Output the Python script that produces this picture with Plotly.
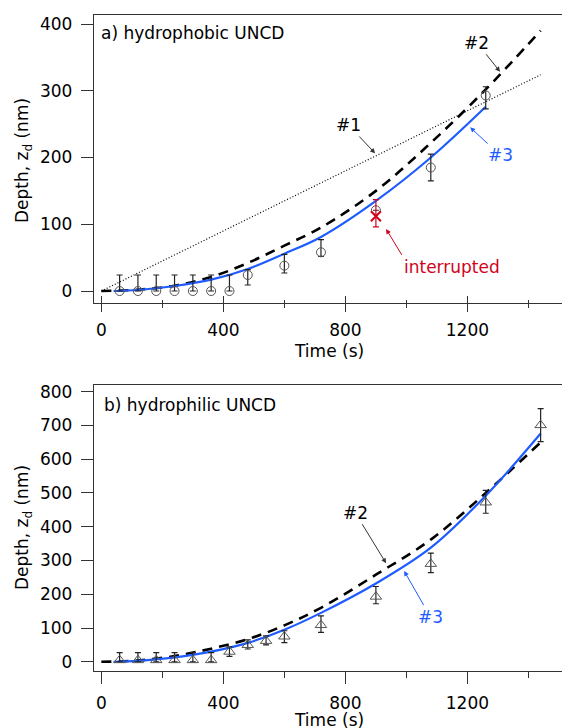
import plotly.graph_objects as go

# ---- panel a) hydrophobic UNCD ----
time_a = [60, 120, 180, 240, 300, 360, 420, 480, 600, 720, 900, 1080, 1260]
depth_a = [0, 0, 0, 0, 0, 0, 0, 24, 38, 58, 121, 185, 293]
err_up_a = [24, 24, 24, 24, 24, 24, 24, 8, 17, 19, 0, 20, 13]
err_dn_a = [0, 0, 0, 0, 0, 0, 0, 15, 11, 6, 0, 20, 20]

interrupted_t = [900]
interrupted_z = [112]
interrupted_up = [25]
interrupted_dn = [16]

fit1_t = [0, 1440]
fit1_z = [0, 324]
fit2_t_a = [0, 120, 240, 360, 480, 600, 720, 900, 1080, 1260, 1440]
fit2_z_a = [0, 2, 8, 21, 42, 68, 95, 150, 222, 302, 390]
fit3_t_a = [40, 120, 240, 360, 480, 600, 720, 900, 1080, 1260]
fit3_z_a = [0, 1.5, 7.5, 17, 33, 56, 81, 135, 200, 276]

# ---- panel b) hydrophilic UNCD ----
time_b = [60, 120, 180, 240, 300, 360, 420, 480, 540, 600, 720, 900, 1080, 1260, 1440]
depth_b = [5, 5, 5, 5, 5, 5, 30, 50, 62, 75, 109, 193, 290, 472, 701]
err_up_b = [22, 22, 22, 22, 22, 22, 14, 15, 15, 17, 27, 30, 32, 36, 49]
err_dn_b = [5, 5, 5, 5, 5, 5, 14, 12, 12, 18, 22, 21, 26, 32, 49]

fit2_t_b = [0, 120, 240, 360, 480, 600, 720, 900, 1080, 1260, 1440]
fit2_z_b = [0, 4, 17, 39, 67, 108, 160, 258, 362, 500, 650]
fit3_t_b = [40, 120, 240, 360, 480, 600, 720, 900, 1080, 1260, 1440]
fit3_z_b = [0, 3, 13, 30, 56, 95, 145, 232, 338, 492, 676]

FONT = "DejaVu Sans"
BLUE = "#1f5cff"
RED = "#d0021b"
GREY = "#555555"
AX = "#333333"

fig = go.Figure()


def add_panel(xa, ya, fit2_t, fit2_z, fit3_t, fit3_z, t, z, up, dn, symbol, size):
    fig.add_trace(go.Scatter(x=fit2_t, y=fit2_z, mode="lines", xaxis=xa, yaxis=ya,
                             line=dict(color="black", width=2.6, dash="10px,7px", shape="spline")))
    fig.add_trace(go.Scatter(x=fit3_t, y=fit3_z, mode="lines", xaxis=xa, yaxis=ya,
                             line=dict(color=BLUE, width=2.2, shape="spline")))
    fig.add_trace(go.Scatter(
        x=t, y=z, mode="markers", xaxis=xa, yaxis=ya,
        marker=dict(symbol=symbol, size=size, color=GREY, line=dict(width=1)),
        error_y=dict(type="data", symmetric=False, array=up, arrayminus=dn,
                     color="#222222", thickness=1.2, width=3),
    ))


fig.add_trace(go.Scatter(x=fit1_t, y=fit1_z, mode="lines", xaxis="x", yaxis="y",
                         line=dict(color="black", width=1.2, dash="1px,2px")))
add_panel("x", "y", fit2_t_a, fit2_z_a, fit3_t_a, fit3_z_a,
          time_a, depth_a, err_up_a, err_dn_a, "circle-open", 9)
fig.add_trace(go.Scatter(
    x=interrupted_t, y=interrupted_z, mode="markers", xaxis="x", yaxis="y",
    marker=dict(symbol="x-thin", size=10, line=dict(color=RED, width=2)),
    error_y=dict(type="data", symmetric=False, array=interrupted_up,
                 arrayminus=interrupted_dn, color=RED, thickness=1.2, width=3),
))
add_panel("x2", "y2", fit2_t_b, fit2_z_b, fit3_t_b, fit3_z_b,
          time_b, depth_b, err_up_b, err_dn_b, "triangle-up-open", 10)
# empty trace so the overlay axis (inner tick marks) renders
fig.add_trace(go.Scatter(x=[None], y=[None], xaxis="x3", yaxis="y"))

tickfont = dict(family=FONT, size=17, color="black")
xcommon = dict(range=[-24, 1510], tickvals=[0, 400, 800, 1200], showgrid=False,
               zeroline=False, showline=True, linecolor=AX, linewidth=1.3,
               tickcolor=AX, tickwidth=1.3, tickfont=tickfont, mirror=True,
               automargin=False)
ycommon = dict(showgrid=False, zeroline=False, showline=True, linecolor=AX,
               linewidth=1.3, ticks="outside", ticklen=12, tickcolor=AX,
               tickwidth=1.3, tickfont=tickfont, ticklabelstandoff=5,
               automargin=False)

fig.update_layout(
    width=562, height=728,
    margin=dict(l=0, r=0, t=0, b=0, autoexpand=False),
    paper_bgcolor="white", plot_bgcolor="white",
    showlegend=False,
    xaxis=dict(xcommon, domain=[94 / 562, 1], anchor="y", ticks="outside", ticklen=8,
               minor=dict(dtick=200, ticks="outside", ticklen=4, tickcolor=AX),
               ticklabelstandoff=4),
    xaxis3=dict(range=[-24, 1510], domain=[94 / 562, 1], anchor="y", overlaying="x",
                matches="x", tickvals=[0, 400, 800, 1200], ticks="inside", ticklen=7,
                tickcolor=AX, tickwidth=1.3, showticklabels=False, showgrid=False,
                zeroline=False, showline=False, automargin=False,
                minor=dict(dtick=200, ticks="inside", ticklen=3, tickcolor=AX)),
    yaxis=dict(ycommon, domain=[1 - 302.7 / 728, 1 - 15 / 728], anchor="x",
               range=[-17.5, 413.5], tickvals=[0, 100, 200, 300, 400]),
    xaxis2=dict(xcommon, domain=[94 / 562, 1], anchor="y2", ticks="outside", ticklen=12,
                minor=dict(dtick=200, ticks="outside", ticklen=6, tickcolor=AX),
                ticklabelstandoff=5),
    yaxis2=dict(ycommon, domain=[1 - 670.5 / 728, 1 - 385 / 728], anchor="x2",
                range=[-25.7, 819.8], tickvals=list(range(0, 801, 100))),
)

ann = []


def label(text, x, y, xr, yr, color="black", xanchor="center", tip=None, arrowcolor=None,
          yanchor="middle"):
    a = dict(text=text, xref=xr, yref=yr, xanchor=xanchor, yanchor=yanchor,
             font=dict(family=FONT, size=17, color=color))
    if tip is None:
        a.update(x=x, y=y, showarrow=False)
    else:
        a.update(x=tip[0], y=tip[1], ax=x, ay=y, axref=xr, ayref=yr, showarrow=True,
                 arrowhead=2, arrowsize=1, arrowwidth=1,
                 arrowcolor=arrowcolor or color)
    ann.append(a)


label("a) hydrophobic UNCD", -6.6, 386.5, "x", "y", xanchor="left")
label("b) hydrophilic UNCD", 1.3, 760, "x2", "y2", xanchor="left")

label("#2", 1231, 372, "x", "y", tip=(1307, 328.5), arrowcolor="#333333")
label("#1", 810, 248.7, "x", "y", tip=(897.4, 206.3), arrowcolor="#333333")
label("#3", 1307, 203.7, "x", "y", color=BLUE, tip=(1208.9, 245.2))
label("interrupted", 985, 54, "x", "y", color=RED, tip=(933.4, 92.9),
      xanchor="left", yanchor="top")

label("#2", 832, 441.7, "x2", "y2", tip=(933.4, 292), arrowcolor="#333333")
label("#3", 1078, 134, "x2", "y2", color=BLUE, tip=(992.5, 269.2))

# axis titles
label("Time (s)", 329 / 562, 1 - 351 / 728, "paper", "paper")
label("Time (s)", 329 / 562, 1 - 720 / 728, "paper", "paper")
for yc in (161, 528):
    ann.append(dict(text="Depth, z<sub>d</sub> (nm)", x=23 / 562, y=1 - yc / 728,
                    xref="paper", yref="paper", xanchor="center", yanchor="middle",
                    showarrow=False, textangle=-90,
                    font=dict(family=FONT, size=17, color="black")))

fig.update_layout(annotations=ann)
# drop the default page margin so the figure sits at the window's top-left corner
fig.write_html("out.html", config={"displayModeBar": False},
               post_script="document.body.style.margin='0';")
